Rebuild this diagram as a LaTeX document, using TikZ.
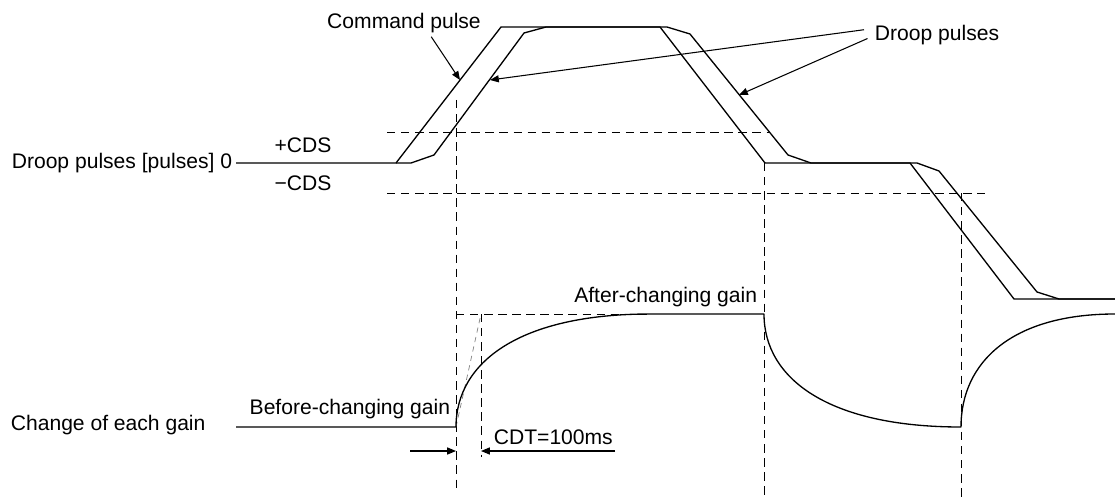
\documentclass[tikz,border=0pt]{standalone}
\usepackage{fontspec}
\setmainfont{Liberation Sans}
\usepackage{tikz}
\usetikzlibrary{arrows.meta}

\begin{document}
\begin{tikzpicture}[x=0.02cm,y=-0.02cm,>={Triangle[length=5pt,width=4pt]},
    lbl/.style={inner sep=2pt,font=\fontsize{12}{14}\selectfont},
    sig/.style={line width=0.75pt,line join=round},
    guide/.style={line width=0.5pt,dash pattern=on 4.8pt off 3.2pt},
    lead/.style={->,line width=0.6pt}]
  \useasboundingbox (0,0) rectangle (1115,500);
  % CDS band and timing marks
  \draw[guide] (387,132) -- (770,132);
  \draw[guide] (387,193) -- (985,193);
  \draw[guide] (456,100) -- (456,488);
  \draw[guide] (764,163) -- (764,500);
  \draw[guide] (961,193) -- (961,500);
  \draw[guide] (456,314) -- (650,314);
  \draw[guide] (481,314) -- (481,457);
  \draw[guide,gray,line width=0.4pt,dash pattern=on 3pt off 2.5pt] (456,427) -- (481,314);
  % labels
  \node[lbl,anchor=east] (dpp) at (236,163) {Droop pulses [pulses] 0};
  \node[lbl] (pcds) at (303,145) {+CDS};
  \node[lbl] (mcds) at (303,183) {−CDS};
  \node[lbl] (cmd) at (404,23) {Command pulse};
  \node[lbl] (dp) at (937,35) {Droop pulses};
  \node[lbl,anchor=west] (gain) at (7,425) {Change of each gain};
  \node[lbl,anchor=east] (before) at (454,409) {Before-changing gain};
  \node[lbl,anchor=east] (after) at (761,297) {After-changing gain};
  \node[lbl,anchor=west] (cdt) at (490,437) {CDT=100ms};
  % command pulse and droop pulses
  \draw[sig] (dpp.east) -- (396,163) -- (501,27) -- (660,27) -- (765,163)
    -- (910,163) -- (1014,299) -- (1115,299);
  \draw[sig] (396,163) -- (411,163) -- (434,155) -- (524,33) -- (546,27)
    -- (667,27) -- (690,34) -- (788,155) -- (811,163) -- (917,163)
    -- (939,171) -- (1037,292) -- (1059,299) -- (1115,299);
  % gain
  \draw[sig] (236,427) -- (456,427) .. controls (456,362) and (520,314) .. (650,314)
    -- (764,314) .. controls (764,379) and (829,427) .. (961,427)
    .. controls (961,362) and (1012,314) .. (1115,314);
  % leaders
  \coordinate (cmdtip) at (460,80);
  \coordinate (droopA) at (490,80);
  \coordinate (droopB) at (739,95);
  \draw[lead] ([xshift=15.5pt]cmd.south) -- (cmdtip);
  \draw[lead] ([shift={(-4pt,3pt)}]dp.west) -- (droopA);
  \draw[lead] ([shift={(-2pt,-2pt)}]dp.west) -- (droopB);
  % CDT
  \coordinate (cdtL) at (410,451);
  \coordinate (cdtR) at (615,451);
  \draw[lead] (cdtL) -- (456,451);
  \draw[lead] (cdtR) -- (481,451);
\end{tikzpicture}
\end{document}
